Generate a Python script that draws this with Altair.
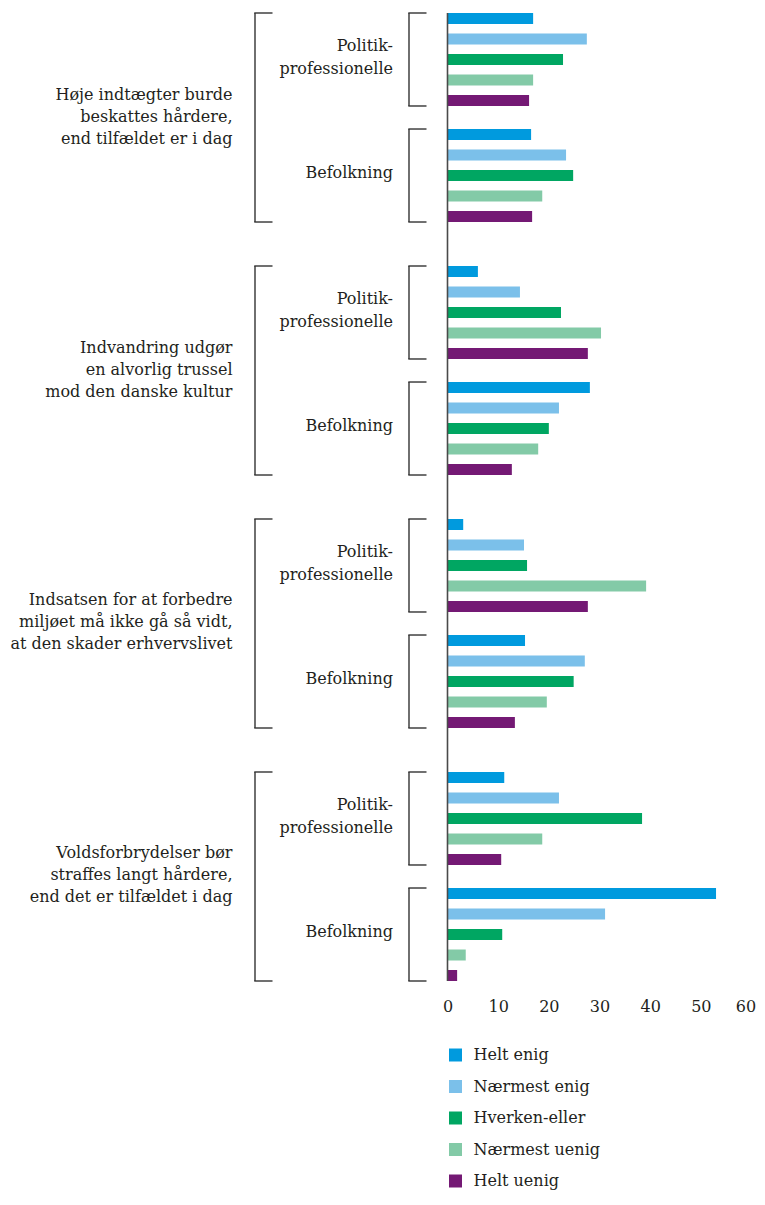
import altair as alt
import pandas as pd

FONT = "DejaVu Serif"
TXT = "#231f20"

statements = [
    "Høje indtægter burde\nbeskattes hårdere,\nend tilfældet er i dag",
    "Indvandring udgør\nen alvorlig trussel\nmod den danske kultur",
    "Indsatsen for at forbedre\nmiljøet må ikke gå så vidt,\nat den skader erhvervslivet",
    "Voldsforbrydelser bør\nstraffes langt hårdere,\nend det er tilfældet i dag",
]
groups = ["Politik-\nprofessionelle", "Befolkning"]
categories = ["Helt enig", "Nærmest enig", "Hverken-eller", "Nærmest uenig", "Helt uenig"]
colors = ["#009ade", "#7bc0ea", "#00a662", "#83caa7", "#741974"]

# values (%) per statement: [Politik-professionelle, Befolkning]
s1_pol = [16.9, 27.5, 22.8, 16.9, 16.1]
s1_bef = [16.5, 23.4, 24.8, 18.7, 16.7]
s2_pol = [6.0, 14.3, 22.4, 30.3, 27.7]
s2_bef = [28.1, 22.0, 20.0, 17.9, 12.7]
s3_pol = [3.1, 15.1, 15.7, 39.2, 27.7]
s3_bef = [15.3, 27.1, 24.9, 19.6, 13.3]
s4_pol = [11.2, 22.0, 38.4, 18.7, 10.6]
s4_bef = [53.0, 31.1, 10.8, 3.6, 1.9]
series = [[s1_pol, s1_bef], [s2_pol, s2_bef], [s3_pol, s3_bef], [s4_pol, s4_bef]]

x_ticks = [0, 10, 20, 30, 40, 50, 60]

# layout in "bar slot" units
STAT_STEP = 12.341
GROUP_STEP = 5.659
HALF = 0.268
PLOT_H = 968
y_min = -HALF
y_max = 3 * STAT_STEP + GROUP_STEP + 4 + HALF
PX = PLOT_H / (y_max - y_min)  # pixels per slot


def text_anchor(mid, label):
    n = label.count("\n") + 1
    return mid + (-(n - 1) * 10 - 3) / PX


bar_rows, grp_rows, st_rows, tick_rows = [], [], [], []
for si, st in enumerate(statements):
    s0 = si * STAT_STEP
    st_top = s0 - HALF
    st_bot = s0 + GROUP_STEP + 4 + HALF
    st_mid = (st_top + st_bot) / 2
    st_rows.append({"label": st, "top": st_top, "bot": st_bot, "ty": text_anchor(st_mid, st)})
    tick_rows += [{"kind": "outer", "yy": st_top}, {"kind": "outer", "yy": st_bot}]
    for gi, g in enumerate(groups):
        g0 = s0 + gi * GROUP_STEP
        g_top, g_bot = g0 - HALF, g0 + 4 + HALF
        g_mid = (g_top + g_bot) / 2
        grp_rows.append({"label": g, "top": g_top, "bot": g_bot, "ty": text_anchor(g_mid, g)})
        tick_rows += [{"kind": "inner", "yy": g_top}, {"kind": "inner", "yy": g_bot}]
        for ci, c in enumerate(categories):
            p = g0 + ci
            bar_rows.append({"statement": si, "group": g, "category": c,
                             "value": series[si][gi][ci], "y0": p - HALF, "y1": p + HALF})

bars_df = pd.DataFrame(bar_rows)
grp_df = pd.DataFrame(grp_rows)
st_df = pd.DataFrame(st_rows)
tick_df = pd.DataFrame(tick_rows)
axis_df = pd.DataFrame({"top": [y_min], "bot": [y_max]})

yscale = alt.Scale(domain=[y_min, y_max], reverse=True, nice=False, zero=False)
xscale = alt.Scale(domain=[0, 60], nice=False)

bars = alt.Chart(bars_df).mark_rect().encode(
    x=alt.X("value:Q", scale=xscale,
            axis=alt.Axis(values=x_ticks, domain=False, ticks=False, grid=False, title=None,
                          labelFlush=False, labelPadding=17, labelFont=FONT, labelFontSize=16,
                          labelColor=TXT,
                          labelOffset={"condition": {"test": "datum.value == 60", "value": -6},
                                       "value": 0})),
    x2=alt.datum(0),
    y=alt.Y("y0:Q", scale=yscale, axis=None),
    y2="y1:Q",
    color=alt.Color("category:N", scale=alt.Scale(domain=categories, range=colors),
                    legend=alt.Legend(orient="none", legendX=0, legendY=1034, direction="vertical",
                                      title=None, symbolType="square", symbolSize=169,
                                      symbolStrokeWidth=0, symbolOpacity=1, labelFont=FONT,
                                      labelFontSize=16, labelColor=TXT, rowPadding=15.5,
                                      labelOffset=10, padding=0)),
)

axis_line = alt.Chart(axis_df).mark_rule(color="#4a4a4a", strokeWidth=1.6).encode(
    x=alt.value(0), y=alt.Y("top:Q", scale=yscale, axis=None), y2="bot:Q")

st_text = alt.Chart(st_df).mark_text(align="right", baseline="middle", font=FONT, fontSize=16,
                                     lineBreak="\n", lineHeight=22, color=TXT).encode(
    x=alt.value(-215), y=alt.Y("ty:Q", scale=yscale, axis=None), text="label:N")

grp_text = alt.Chart(grp_df).mark_text(align="right", baseline="middle", font=FONT, fontSize=16,
                                       lineBreak="\n", lineHeight=23, color=TXT).encode(
    x=alt.value(-54.5), y=alt.Y("ty:Q", scale=yscale, axis=None), text="label:N")

outer_v = alt.Chart(st_df).mark_rule(color="#333333", strokeWidth=1.4).encode(
    x=alt.value(-192.5), y=alt.Y("top:Q", scale=yscale, axis=None), y2="bot:Q")
inner_v = alt.Chart(grp_df).mark_rule(color="#333333", strokeWidth=1.4).encode(
    x=alt.value(-38.5), y=alt.Y("top:Q", scale=yscale, axis=None), y2="bot:Q")
outer_t = alt.Chart(tick_df).transform_filter(alt.datum.kind == "outer").mark_rule(
    color="#333333", strokeWidth=1.4).encode(
    x=alt.value(-193.2), x2=alt.value(-175), y=alt.Y("yy:Q", scale=yscale, axis=None))
inner_t = alt.Chart(tick_df).transform_filter(alt.datum.kind == "inner").mark_rule(
    color="#333333", strokeWidth=1.4).encode(
    x=alt.value(-39.2), x2=alt.value(-21), y=alt.Y("yy:Q", scale=yscale, axis=None))

chart = alt.layer(bars, axis_line, st_text, grp_text, outer_v, inner_v, outer_t, inner_t).properties(
    width=304, height=PLOT_H,
    padding={"left": 439.5, "top": 5, "right": 5, "bottom": 212},
    autosize=alt.AutoSizeParams(type="none"),
).configure_view(stroke=None)

chart.save("out.html", embed_options={"renderer": "svg", "actions": False})
